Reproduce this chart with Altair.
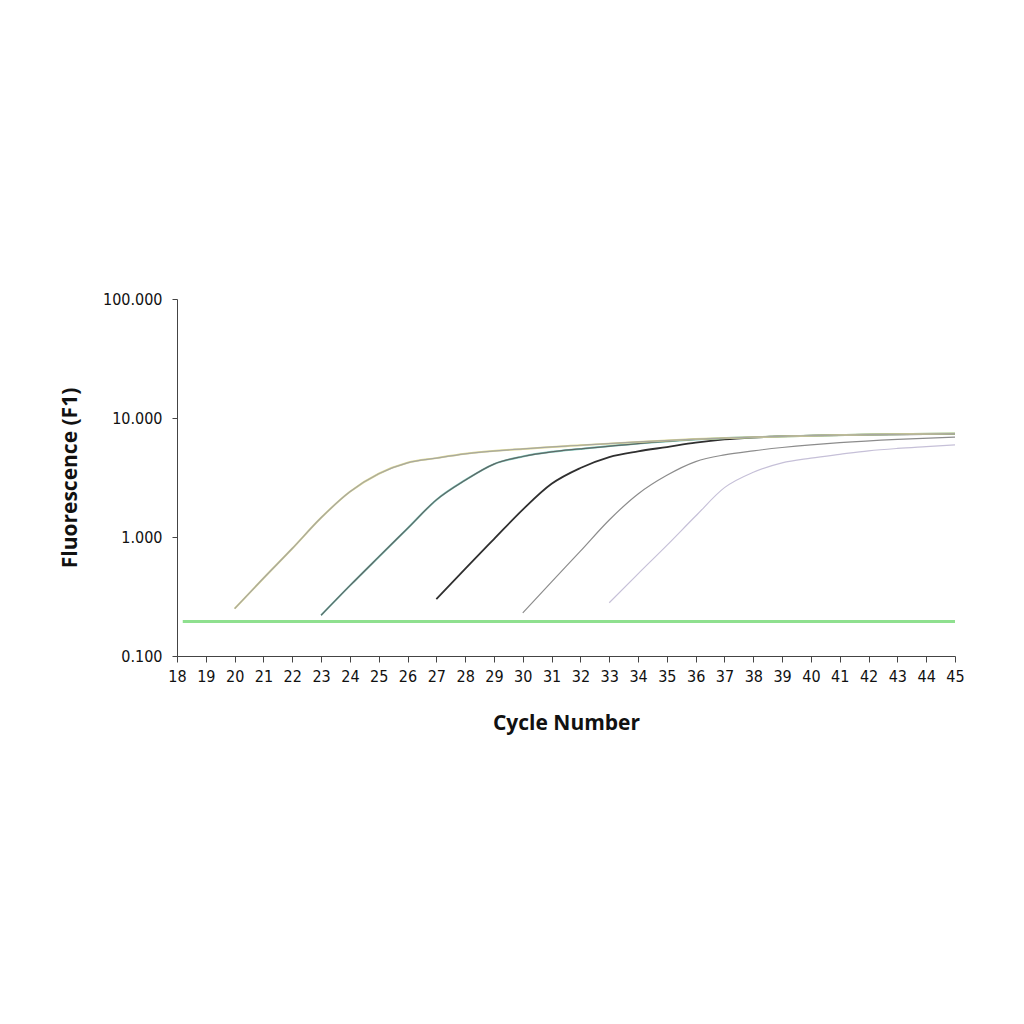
import altair as alt
import pandas as pd

# Series data (cycle, fluorescence)
c1_cycles = [20, 21, 22, 23, 24, 25, 26, 27, 28, 30, 32, 34, 36, 38, 40, 42, 45]
c1_values = [0.25, 0.45, 0.8, 1.45, 2.4, 3.4, 4.2, 4.6, 5.0, 5.5, 5.9, 6.3, 6.65, 6.9, 7.1, 7.25, 7.4]

c2_cycles = [23, 24, 25, 26, 27, 28, 29, 30, 31, 32, 34, 36, 38, 40, 42, 45]
c2_values = [0.22, 0.39, 0.68, 1.18, 2.05, 3.0, 4.1, 4.75, 5.2, 5.5, 6.1, 6.6, 6.9, 7.1, 7.25, 7.4]

c3_cycles = [27, 28, 29, 30, 31, 32, 33, 34, 35, 36, 37, 38, 40, 42, 45]
c3_values = [0.3, 0.54, 0.96, 1.7, 2.8, 3.8, 4.7, 5.25, 5.7, 6.2, 6.6, 6.85, 7.1, 7.25, 7.35]

c4_cycles = [30, 31, 32, 33, 34, 35, 36, 37, 38, 39, 40, 41, 43, 45]
c4_values = [0.23, 0.42, 0.76, 1.39, 2.3, 3.3, 4.3, 4.9, 5.3, 5.65, 5.95, 6.2, 6.6, 6.9]

c5_cycles = [33, 34, 35, 36, 37, 38, 39, 40, 41, 42, 43, 44, 45]
c5_values = [0.28, 0.49, 0.85, 1.5, 2.6, 3.5, 4.2, 4.6, 4.95, 5.3, 5.55, 5.75, 5.95]

threshold_cycles = [18.2, 45]
threshold_values = [0.195, 0.195]

x_ticks = list(range(18, 46))
y_ticks = [0.1, 1, 10, 100]

FONT = "DejaVu Sans Condensed"
TITLE_FONT = "Open Sans"

x_scale = alt.Scale(domain=[18, 45], nice=False, zero=False)
y_scale = alt.Scale(type="log", domain=[0.1, 100], nice=False)

x_axis = alt.Axis(values=x_ticks, format="d", title="Cycle Number", grid=False,
                  labelFont=FONT, labelFontSize=16, labelColor="#111",
                  titleFont=TITLE_FONT, titleFontSize=21, titleFontWeight="bold",
                  titleColor="#111", titlePadding=28, tickSize=6, labelPadding=6,
                  domainColor="#444", tickColor="#444", labelOverlap=False,
                  labelFlush=False, labelBound=False)
y_axis = alt.Axis(values=y_ticks, labelExpr="format(datum.value, '.3f')",
                  title="Fluorescence (F1)", grid=False,
                  labelFont=FONT, labelFontSize=16, labelColor="#111",
                  titleFont=TITLE_FONT, titleFontSize=21, titleFontWeight="bold",
                  titleColor="#111", titlePadding=22, tickSize=5, labelPadding=10,
                  domainColor="#444", tickColor="#444",
                  labelFlush=False, labelBound=False)


def line(cycles, values, color, width, interp="monotone"):
    df = pd.DataFrame({"cycle": cycles, "value": values})
    return alt.Chart(df).mark_line(color=color, strokeWidth=width,
                                   interpolate=interp).encode(
        x=alt.X("cycle:Q", scale=x_scale, axis=x_axis),
        y=alt.Y("value:Q", scale=y_scale, axis=y_axis),
    )


layers = [
    line(threshold_cycles, threshold_values, "#8fe08f", 3, interp="linear"),
    line(c5_cycles, c5_values, "#c6c0d8", 1.2),
    line(c4_cycles, c4_values, "#8c8c8c", 1.2),
    line(c3_cycles, c3_values, "#2f2f2f", 1.8),
    line(c2_cycles, c2_values, "#7cc4b8", 2.0),
    line(c2_cycles, c2_values, "#5e6866", 1.2),
    line(c1_cycles, c1_values, "#dcd890", 2.0),
    line(c1_cycles, c1_values, "#a8a8a0", 1.2),
]

chart = alt.layer(*layers).properties(
    width=778, height=357,
    background="white",
    autosize=alt.AutoSizeParams(type="none"),
    padding={"left": 169, "top": 291, "right": 50, "bottom": 100},
).configure_view(stroke=None, strokeWidth=0)

chart.save("out.html", embed_options={"renderer": "svg", "actions": False})
